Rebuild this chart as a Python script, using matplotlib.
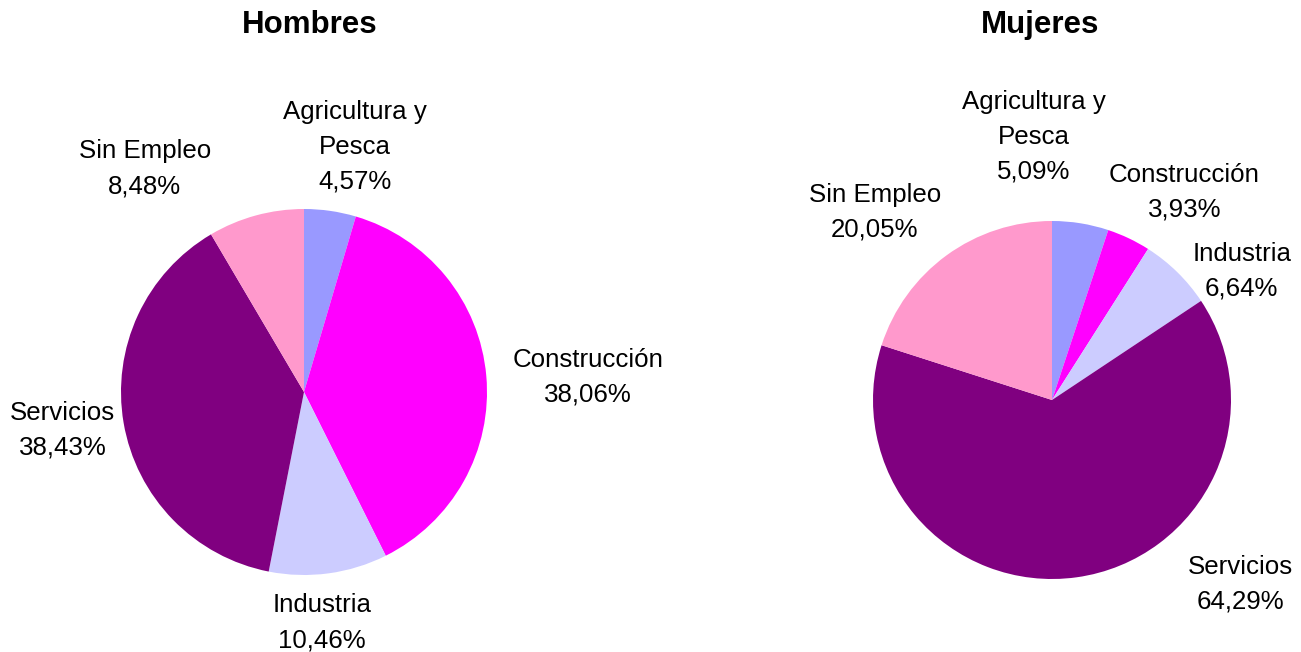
import matplotlib
matplotlib.use("Agg")
import matplotlib.pyplot as plt

plt.rcParams['font.family'] = ['Liberation Sans', 'DejaVu Sans']

sectors = ["Agricultura y\nPesca", "Construcción", "Industria", "Servicios", "Sin Empleo"]
hombres = [4.57, 38.06, 10.46, 38.43, 8.48]
mujeres = [5.09, 3.93, 6.64, 64.29, 20.05]
colors = ["#9999FF", "#FF00FF", "#CCCCFF", "#800080", "#FF99CC"]

W, H = 1301, 652
fig = plt.figure(figsize=(W / 100, H / 100), dpi=100)
fig.patch.set_facecolor("white")

# label anchors relative to each pie (unit radius)
pos_h = [(0.28, 1.34), (1.55, 0.08), (0.10, -1.26), (-1.32, -0.21), (-0.87, 1.22)]
pos_m = [(-0.10, 1.47), (0.74, 1.16), (1.06, 0.72), (1.05, -1.03), (-0.99, 1.05)]


def fmt(v):
    return f"{v:.2f}".replace(".", ",") + "%"


def draw_pie(cx, cy, r, values, title, tx, label_pos):
    ax = fig.add_axes([(cx - r) / W, (H - cy - r) / H, 2 * r / W, 2 * r / H])
    ax.pie(values, colors=colors, startangle=90, counterclock=False, radius=1,
           wedgeprops=dict(linewidth=0))
    ax.set_xlim(-1, 1)
    ax.set_ylim(-1, 1)
    ax.set_aspect("equal")
    ax.axis("off")
    for name, v, (dx, dy) in zip(sectors, values, label_pos):
        ax.text(dx, dy, f"{name}\n{fmt(v)}", ha="center", va="center",
                fontsize=18.6, linespacing=1.58, clip_on=False)
    fig.text(tx / W, 1 - 25 / H, title, ha="center", va="center",
             fontsize=22.5, fontweight="bold")


draw_pie(304, 392, 183, hombres, "Hombres", 310, pos_h)
draw_pie(1052, 400, 179, mujeres, "Mujeres", 1040, pos_m)

fig.savefig("out.png", dpi=100)
